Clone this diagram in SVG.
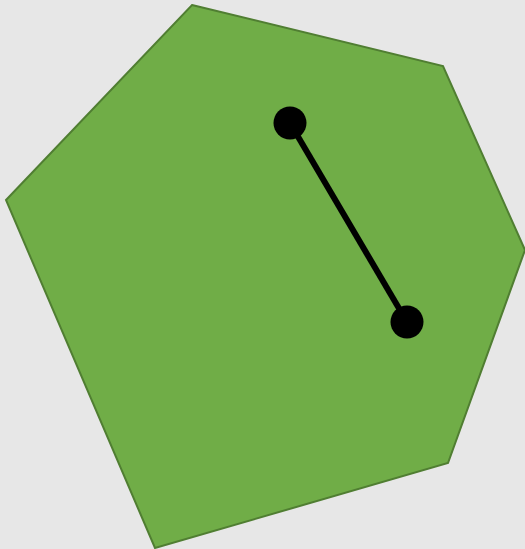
<svg xmlns="http://www.w3.org/2000/svg" width="525" height="549" viewBox="0 0 525 549">
<style>.dot{fill:#000}</style>
<rect width="525" height="549" fill="#e7e7e7"/>
<g id="hexagon">
<polygon points="192,5 443,66 525,250 448,463 155,548 6,200" fill="#70ad47" stroke="#507e32" stroke-width="2"/>
</g>
<g id="connectors">
<line x1="290" y1="123" x2="407" y2="322" stroke="#000" stroke-width="6"/>
</g>
<g id="dot1"><circle class="dot" cx="290" cy="123" r="16.5"/></g>
<g id="dot2"><circle class="dot" cx="407" cy="322" r="16.5"/></g>
</svg>
